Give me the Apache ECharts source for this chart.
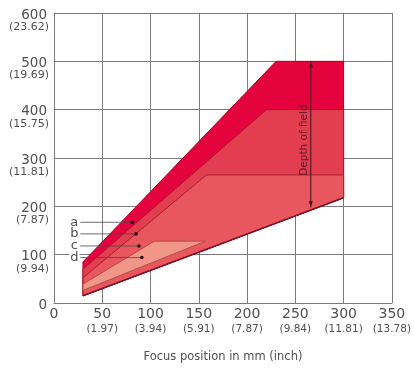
<!DOCTYPE html>
<html>
<head>
<meta charset="utf-8">
<script src="https://cdn.jsdelivr.net/npm/echarts@6/dist/echarts.min.js"></script>
<style>
  html, body { margin: 0; padding: 0; background: #fff; }
  #chart { width: 414px; height: 368px; }
</style>
</head>
<body>
<div id="chart"></div>
<script>
// Axis ticks (mm) with their inch equivalents
const xTicks = [0, 50, 100, 150, 200, 250, 300, 350];
const xInch = ['', '1.97', '3.94', '5.91', '7.87', '9.84', '11.81', '13.78'];
const yTicks = [0, 100, 200, 300, 400, 500, 600];
const yInch = ['', '9.94', '7.87', '11.81', '15.75', '19.69', '23.62'];

// Working zones as outlines [focus position, field size]
const zoneA = [[30, 15], [30, 85], [230, 500], [300, 500], [300, 218]];
const zoneB = [[30, 15], [30, 70], [220, 400], [300, 400], [300, 218]];
const zoneC = [[30, 15], [30, 52], [158, 265], [300, 265], [300, 218]];
const zoneD = [[30, 26], [30, 39], [104, 128], [157, 128]];
const lowerEdge = [[30, 15], [300, 218]];

// Zone call-outs: letter, marker position
const zoneNames = ['a', 'b', 'c', 'd'];
const markerX = [81, 85, 88, 91];
const markerY = [167, 143, 118, 94];
const calloutX = 21;

// Depth-of-field dimension
const depthArrow = [[266, 500], [266, 198]];
const depthText = 'Depth of field';
const depthTextAt = [259, 337];

const FONT = 'DejaVu Sans';
const TEXT = '#505050';
const GRID = '#7c7c7c';

function zoneSeries(points, fill, stroke) {
  return {
    type: 'custom',
    coordinateSystem: 'cartesian2d',
    data: points,
    encode: { x: 0, y: 1 },
    silent: true,
    animation: false,
    renderItem: function (params, api) {
      if (params.dataIndex !== 0) return null;
      return {
        type: 'polygon',
        shape: { points: points.map(p => api.coord(p)) },
        style: { fill: fill, stroke: stroke, lineWidth: 1 }
      };
    }
  };
}

const chart = echarts.init(document.getElementById('chart'), null, { renderer: 'canvas' });

chart.setOption({
  animation: false,
  backgroundColor: '#fff',
  grid: { left: 54, right: 21, top: 13, bottom: 65 },
  xAxis: {
    type: 'value', min: 0, max: 350, interval: 50,
    name: 'Focus position in mm (inch)',
    nameLocation: 'middle', nameGap: 48,
    nameTextStyle: { fontFamily: FONT, fontSize: 11.5, color: TEXT },
    axisLine: { show: true, lineStyle: { color: GRID, width: 1 } },
    axisTick: { show: false },
    splitLine: { show: true, lineStyle: { color: GRID, width: 1 } },
    axisLabel: {
      margin: 4,
      formatter: function (v) {
        const i = xTicks.indexOf(v);
        const inch = xInch[i] ? '(' + xInch[i] + ')' : ' ';
        return '{m|' + v + '}\n{i|' + inch + '}';
      },
      rich: {
        m: { fontFamily: FONT, fontSize: 14, lineHeight: 14, color: TEXT, align: 'center' },
        i: { fontFamily: FONT, fontSize: 10.5, lineHeight: 16, color: TEXT, align: 'center' }
      }
    }
  },
  yAxis: {
    type: 'value', min: 0, max: 600, interval: 100,
    axisLine: { show: true, lineStyle: { color: GRID, width: 1 } },
    axisTick: { show: false },
    splitLine: { show: true, lineStyle: { color: GRID, width: 1 } },
    axisLabel: {
      margin: 5,
      padding: [16, 0, 0, 0],
      formatter: function (v) {
        const i = yTicks.indexOf(v);
        const inch = yInch[i] ? '(' + yInch[i] + ')' : ' ';
        return '{m|' + v + '}\n{i|' + inch + '}';
      },
      rich: {
        m: { fontFamily: FONT, fontSize: 13.5, lineHeight: 12, color: TEXT, align: 'right', padding: [0, 2, 0, 0] },
        i: { fontFamily: FONT, fontSize: 11, lineHeight: 12, color: TEXT, align: 'right' }
      }
    }
  },
  series: [
    zoneSeries(zoneA, '#e4033c', '#b0002c'),
    zoneSeries(zoneB, '#e33d50', '#a8182e'),
    zoneSeries(zoneC, '#e8575d', '#a8202e'),
    zoneSeries(zoneD, '#f0978a', '#b84a4a'),
    {
      // lower boundary of the working range
      type: 'custom', coordinateSystem: 'cartesian2d',
      data: lowerEdge, encode: { x: 0, y: 1 }, silent: true,
      renderItem: function (params, api) {
        if (params.dataIndex !== 0) return null;
        const a = api.coord(lowerEdge[0]), b = api.coord(lowerEdge[1]);
        return {
          type: 'line',
          shape: { x1: a[0], y1: a[1], x2: b[0], y2: b[1] },
          style: { stroke: '#7d1426', lineWidth: 1.6 }
        };
      }
    },
    {
      // zone call-outs a..d
      type: 'custom', coordinateSystem: 'cartesian2d',
      data: zoneNames.map((n, i) => [markerX[i], markerY[i]]),
      encode: { x: 0, y: 1 }, silent: true,
      renderItem: function (params, api) {
        const i = params.dataIndex;
        const dot = api.coord([markerX[i], markerY[i]]);
        const lab = api.coord([calloutX, markerY[i]]);
        return {
          type: 'group',
          children: [
            {
              type: 'line',
              shape: { x1: lab[0] + 6, y1: dot[1], x2: dot[0], y2: dot[1] },
              style: { stroke: '#4a4a4a', lineWidth: 0.8 }
            },
            {
              type: 'circle',
              shape: { cx: dot[0], cy: dot[1], r: 1.8 },
              style: { fill: '#2a0a10' }
            },
            {
              type: 'text',
              x: lab[0], y: lab[1],
              style: {
                text: zoneNames[i], fontFamily: FONT, fontSize: 13, fill: TEXT,
                align: 'center', verticalAlign: 'middle',
                backgroundColor: '#fff', padding: [0, 1]
              }
            }
          ]
        };
      }
    },
    {
      // depth-of-field dimension arrow and caption
      type: 'custom', coordinateSystem: 'cartesian2d',
      data: depthArrow, encode: { x: 0, y: 1 }, silent: true,
      renderItem: function (params, api) {
        if (params.dataIndex !== 0) return null;
        const t = api.coord(depthArrow[0]), b = api.coord(depthArrow[1]);
        const c = api.coord(depthTextAt);
        const col = '#4a0f1c';
        return {
          type: 'group',
          children: [
            { type: 'line', shape: { x1: t[0], y1: t[1], x2: b[0], y2: b[1] }, style: { stroke: col, lineWidth: 1 } },
            { type: 'polygon', shape: { points: [[t[0], t[1]], [t[0] - 2, t[1] + 6], [t[0] + 2, t[1] + 6]] }, style: { fill: col } },
            { type: 'polygon', shape: { points: [[b[0], b[1]], [b[0] - 2, b[1] - 6], [b[0] + 2, b[1] - 6]] }, style: { fill: col } },
            {
              type: 'text', x: c[0], y: c[1], rotation: Math.PI / 2,
              style: {
                text: depthText, fontFamily: FONT, fontSize: 10.5, fill: '#5a1a28',
                align: 'center', verticalAlign: 'middle'
              }
            }
          ]
        };
      }
    }
  ]
});
</script>
</body>
</html>
